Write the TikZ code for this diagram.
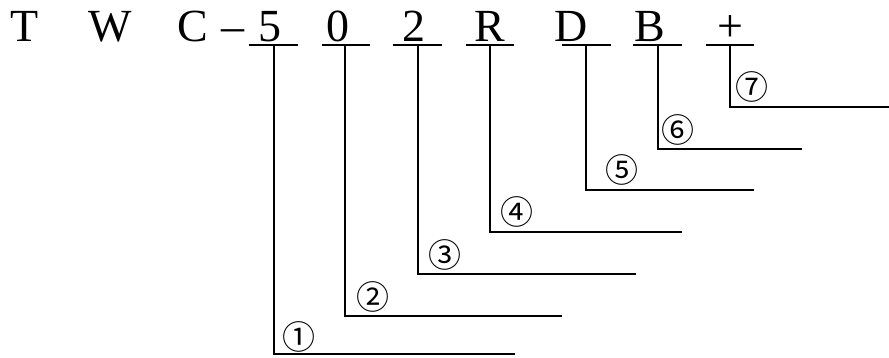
\documentclass[tikz,border=0pt]{standalone}
\usepackage{fontspec}
\setmainfont{Liberation Serif}
\newfontfamily\cjk{Noto Sans CJK SC}
\begin{document}
\begin{tikzpicture}[x=1pt,y=-1pt,
  ch/.style={anchor=base,inner sep=0pt,font=\fontsize{46}{54}\selectfont},
  num/.style={inner sep=0pt,font=\cjk\fontsize{33}{38}\selectfont},
  ln/.style={line width=1.6pt}]
\useasboundingbox (0,0) rectangle (889,358);
% characters
\node[ch] (T) at (25,42) {T};
\node[ch] (W) at (110,42) {W};
\node[ch] (C) at (193,42) {C};
\node[ch] (dash) at (233,42) {–};
\node[ch] (c5) at (270,42) {5};
\node[ch] (c0) at (338,42) {0};
\node[ch] (c2) at (414,42) {2};
\node[ch] (cR) at (490,42) {R};
\node[ch] (cD) at (571,42) {D};
\node[ch] (cB) at (650,42) {B};
\node[ch] (cP) at (730,42) {+};
% underline ends, junctions and line ends
\coordinate (a1) at (249,45); \coordinate (b1) at (298,45);
\coordinate (t1) at (274,45); \coordinate (k1) at (274,354); \coordinate (e1) at (515,354);
\coordinate (a2) at (322,45); \coordinate (b2) at (370,45);
\coordinate (t2) at (345,45); \coordinate (k2) at (345,316); \coordinate (e2) at (562,316);
\coordinate (a3) at (393,45); \coordinate (b3) at (442,45);
\coordinate (t3) at (418,45); \coordinate (k3) at (418,274); \coordinate (e3) at (636,274);
\coordinate (a4) at (466,45); \coordinate (b4) at (514,45);
\coordinate (t4) at (490,45); \coordinate (k4) at (490,232); \coordinate (e4) at (682,232);
\coordinate (a5) at (562,45); \coordinate (b5) at (611,45);
\coordinate (t5) at (586,45); \coordinate (k5) at (586,190); \coordinate (e5) at (754,190);
\coordinate (a6) at (633,45); \coordinate (b6) at (682,45);
\coordinate (t6) at (658,45); \coordinate (k6) at (658,149); \coordinate (e6) at (802,149);
\coordinate (a7) at (706,45); \coordinate (b7) at (754,45);
\coordinate (t7) at (730,45); \coordinate (k7) at (730,107); \coordinate (e7) at (889,107);
\foreach \i in {1,...,7}{
  \draw[ln] (a\i) -- (b\i);
  \draw[ln] (t\i) -- (k\i) -- (e\i);
}
% labels
\node[num] (n1) at (299,337) {①};
\node[num] (n2) at (373,297) {②};
\node[num] (n3) at (445,255) {③};
\node[num] (n4) at (517,212) {④};
\node[num] (n5) at (622,170) {⑤};
\node[num] (n6) at (678,130) {⑥};
\node[num] (n7) at (752,87) {⑦};
\end{tikzpicture}
\end{document}
